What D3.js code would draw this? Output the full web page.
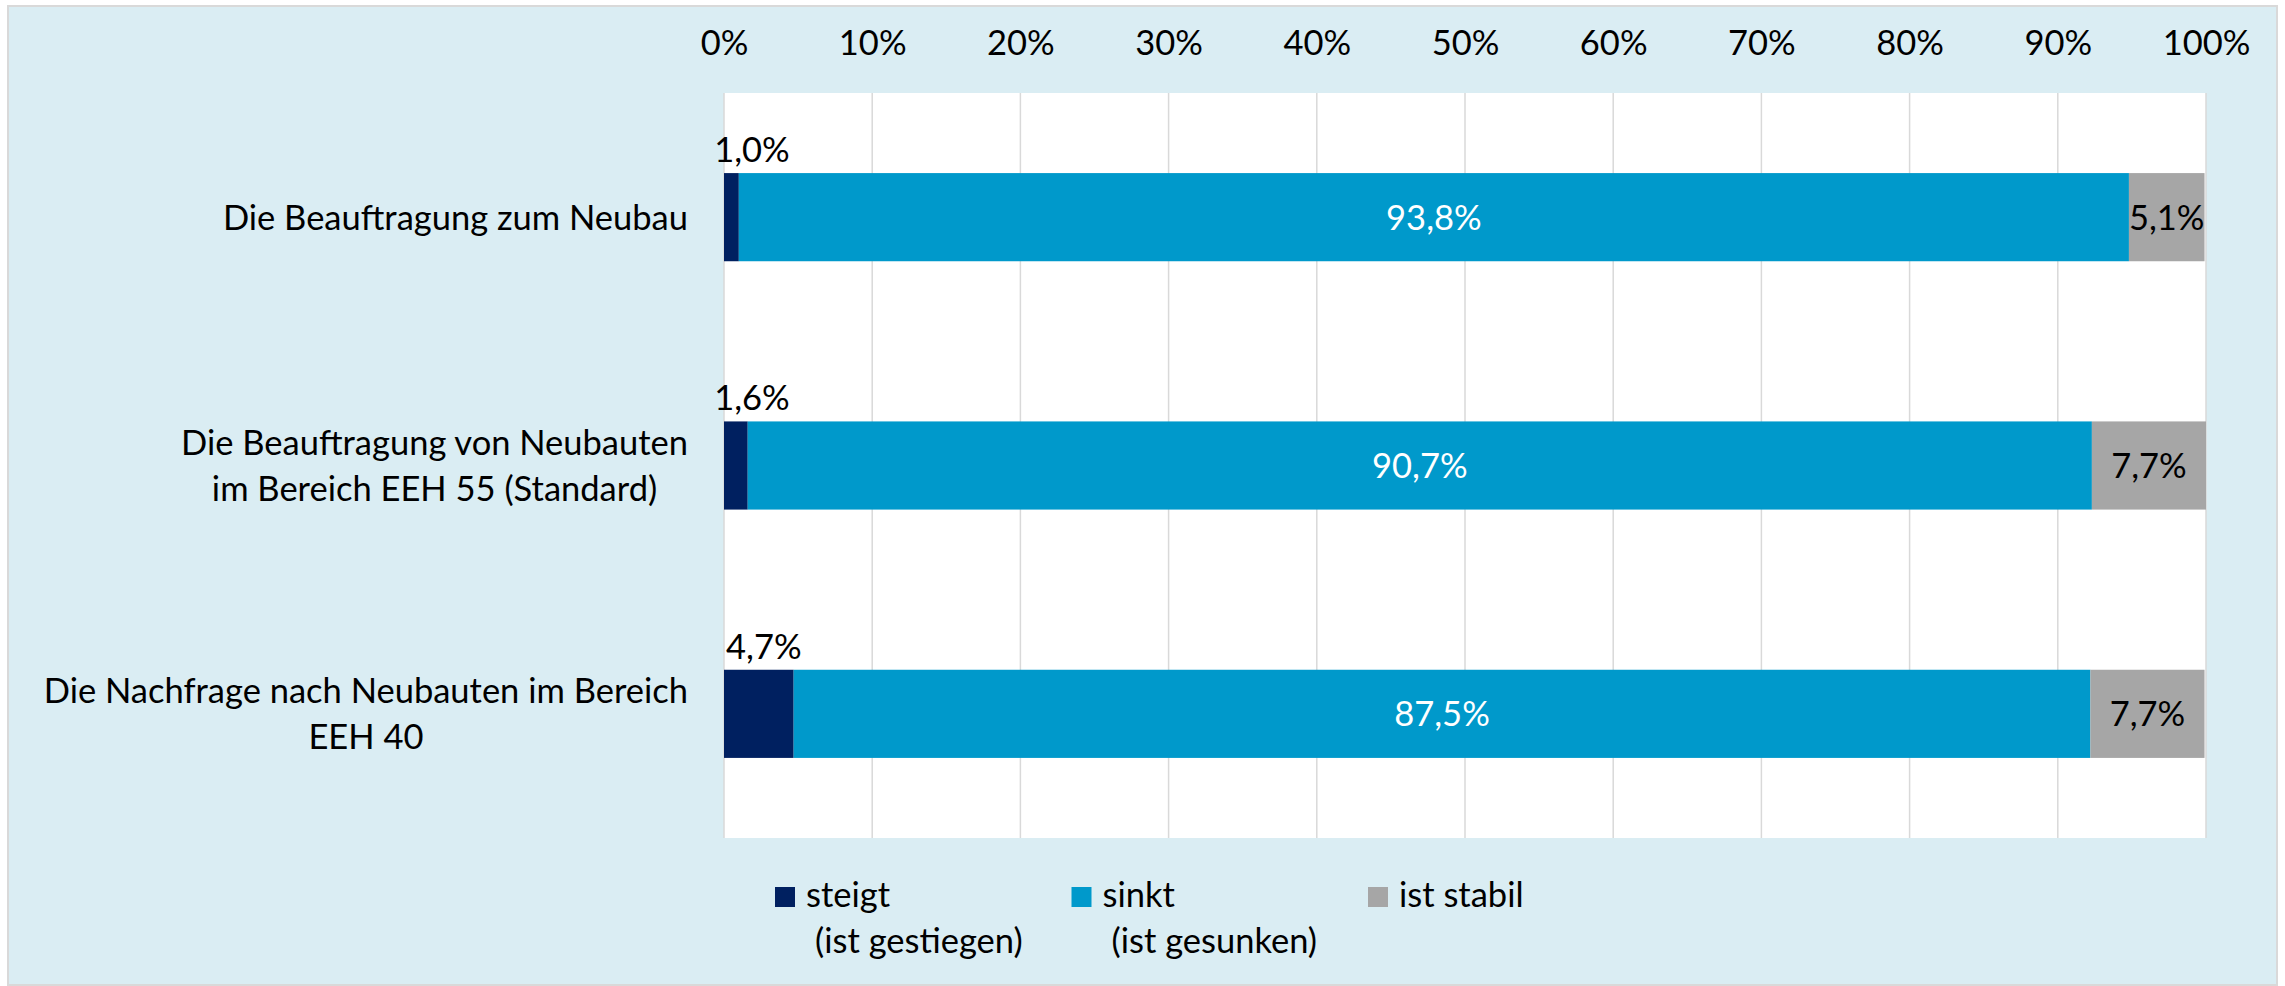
<!DOCTYPE html>
<html>
<head>
<meta charset="utf-8">
<script src="https://cdn.jsdelivr.net/npm/d3@7"></script>
<style>
  body { margin: 0; background: #fff; }
  text { font-family: Lato, "Open Sans", sans-serif; }
</style>
</head>
<body>
<div id="chart"></div>
<script>
// categories (line-broken as in the original) and series values in percent
var categories = [
    ["Die Beauftragung zum Neubau"],
    ["Die Beauftragung von Neubauten", "im Bereich EEH 55 (Standard)"],
    ["Die Nachfrage nach Neubauten im Bereich", "EEH 40"]
];
var steigt = [1.0, 1.6, 4.7];
var sinkt = [93.8, 90.7, 87.5];
var stabil = [5.1, 7.7, 7.7];

var seriesKeys = ["steigt", "sinkt", "stabil"];
var legendLabels = [["steigt", "(ist gestiegen)"], ["sinkt", "(ist gesunken)"], ["ist stabil"]];
var tickValues = [0, 10, 20, 30, 40, 50, 60, 70, 80, 90, 100];

var W = 2285, H = 986;
var margin = { top: 93, right: 79, bottom: 148, left: 724 };
var width = W - margin.left - margin.right,
    height = H - margin.top - margin.bottom;

var colors = { steigt: "#002060", sinkt: "#0099CB", stabil: "#A6A6A6" };
var labelColors = { steigt: "#000", sinkt: "#fff", stabil: "#000" };
var fontSize = 34.5;

var rows = categories.map(function(c, i){
    return { idx: i, steigt: steigt[i], sinkt: sinkt[i], stabil: stabil[i] };
});

var svg = d3.select("#chart").append("svg")
    .attr("width", W)
    .attr("height", H);

// outer chart area
svg.append("rect")
    .attr("x", 8).attr("y", 6)
    .attr("width", W - 16).attr("height", H - 7)
    .attr("fill", "#DAEDF3")
    .attr("stroke", "#D9D9D9")
    .attr("stroke-width", 2);

var g = svg.append("g")
    .attr("transform", "translate(" + margin.left + "," + margin.top + ")");

// scales
var x = d3.scaleLinear().domain([0, 100]).range([0, width]);
var y = d3.scaleBand()
    .domain(d3.range(categories.length))
    .range([0, height])
    .paddingInner(0.645)
    .paddingOuter(0.3225);

// plot area
g.append("rect")
    .attr("width", width).attr("height", height)
    .attr("fill", "#fff");

// gridlines
g.selectAll(".grid")
    .data(tickValues).enter()
    .append("line")
    .attr("class", "grid")
    .attr("x1", function(d){ return x(d); })
    .attr("x2", function(d){ return x(d); })
    .attr("y1", 0).attr("y2", height)
    .attr("stroke", "#D9D9D9")
    .attr("stroke-width", 1.5);

// top axis labels
var xAxis = d3.axisTop(x)
    .tickValues(tickValues)
    .tickSize(0)
    .tickPadding(38)
    .tickFormat(function(d){ return d + "%"; });

g.append("g")
    .attr("class", "axis--x")
    .call(xAxis)
    .call(function(a){ a.select(".domain").remove(); })
    .selectAll("text")
    .attr("font-family", "Lato, sans-serif")
    .attr("font-size", fontSize)
    .attr("fill", "#000");

// stacked bars
var stack = d3.stack().keys(seriesKeys);
var series = stack(rows);

var layer = g.selectAll(".layer")
    .data(series).enter()
    .append("g")
    .attr("class", "layer")
    .attr("fill", function(d){ return colors[d.key]; });

layer.selectAll("rect")
    .data(function(d){ return d; })
    .enter().append("rect")
    .attr("x", function(d){ return x(d[0]); })
    .attr("y", function(d){ return y(d.data.idx); })
    .attr("width", function(d){ return x(d[1]) - x(d[0]); })
    .attr("height", y.bandwidth());

// data labels
var fmt = function(v){ return d3.format(".1f")(v).replace(".", ",") + "%"; };

series.forEach(function(s){
    g.selectAll(".lbl-" + s.key)
        .data(s).enter()
        .append("text")
        .attr("class", "lbl-" + s.key)
        .attr("text-anchor", "middle")
        .attr("font-size", fontSize)
        .attr("fill", labelColors[s.key])
        .attr("x", function(d){
            var v = d.data[s.key];
            if (s.key === "steigt") return Math.max(x(v / 2) + 5, x(0) + 28);
            return x((d[0] + d[1]) / 2);
        })
        .attr("y", function(d){
            if (s.key === "steigt") return y(d.data.idx) - 11;
            return y(d.data.idx) + y.bandwidth() / 2;
        })
        .attr("dy", s.key === "steigt" ? 0 : "0.36em")
        .text(function(d){ return fmt(d.data[s.key]); });
});

// category labels: block right aligned, lines centred
var lineH = 46;
var catG = g.selectAll(".cat")
    .data(categories).enter()
    .append("text")
    .attr("class", "cat")
    .attr("font-size", fontSize)
    .attr("fill", "#000")
    .attr("text-anchor", "middle");

catG.each(function(lines, i){
    var t = d3.select(this);
    var cy = y(i) + y.bandwidth() / 2;
    var spans = t.selectAll("tspan")
        .data(lines).enter()
        .append("tspan")
        .attr("y", function(d, j){ return cy + (j - (lines.length - 1) / 2) * lineH; })
        .attr("dy", "0.36em")
        .text(function(d){ return d; });
    var maxW = 0;
    spans.each(function(){ maxW = Math.max(maxW, this.getComputedTextLength()); });
    spans.attr("x", -36 - maxW / 2);
});

// legend
var legend = svg.selectAll(".legend")
    .data(seriesKeys).enter()
    .append("g")
    .attr("class", "legend")
    .attr("transform", function(d, i){ return "translate(" + (775 + i * 296.5) + ",887)"; });

legend.append("rect")
    .attr("width", 20).attr("height", 20)
    .attr("fill", function(d){ return colors[d]; });

legend.append("text")
    .attr("font-size", fontSize)
    .attr("fill", "#000")
    .selectAll("tspan")
    .data(function(d, i){ return legendLabels[i]; })
    .enter().append("tspan")
    .attr("x", function(d, j){ return j === 0 ? 31 : 40; })
    .attr("y", function(d, j){ return 20 + j * lineH; })
    .text(function(d){ return d; });
</script>
</body>
</html>
